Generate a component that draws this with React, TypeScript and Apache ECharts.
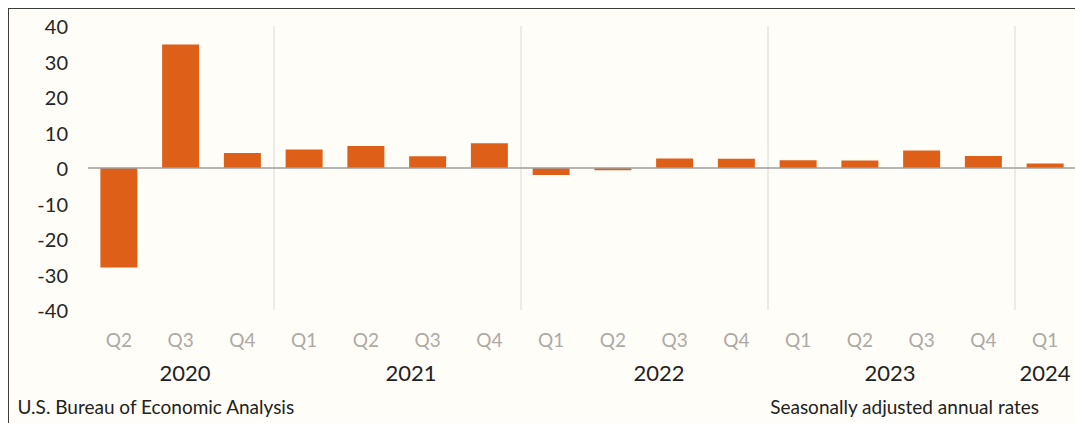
import React, { useEffect, useRef } from "react";
import * as echarts from "echarts";

const categories = [
  "2020 Q2", "2020 Q3", "2020 Q4",
  "2021 Q1", "2021 Q2", "2021 Q3", "2021 Q4",
  "2022 Q1", "2022 Q2", "2022 Q3", "2022 Q4",
  "2023 Q1", "2023 Q2", "2023 Q3", "2023 Q4",
  "2024 Q1",
];
const gdpGrowth = [-28.0, 34.8, 4.2, 5.2, 6.2, 3.3, 7.0, -2.0, -0.6, 2.7, 2.6, 2.2, 2.1, 4.9, 3.4, 1.3];
const yearLabels = ["2020", "2021", "2022", "2023", "2024"];
const yearLabelX = [176, 402, 650, 881, 1036];
const sourceText = "U.S. Bureau of Economic Analysis";
const noteText = "Seasonally adjusted annual rates";

const FONT = "Lato, 'Open Sans', sans-serif";

export default function App() {
  const ref = useRef<HTMLDivElement>(null);
  useEffect(() => {
    document.documentElement.style.overflow = "hidden";
    document.body.style.margin = "0";
    const chart = echarts.init(ref.current!, undefined, { renderer: "svg" });
    chart.setOption({
      animation: false,
      backgroundColor: "#FFFDF7",
      textStyle: { fontFamily: FONT },
      grid: { left: 79, right: -3, top: 17, height: 284, containLabel: false },
      xAxis: {
        type: "category",
        data: categories,
        axisLine: { show: false, onZero: false },
        axisTick: { show: false },
        axisLabel: {
          formatter: (v: string) => v.split(" ")[1],
          color: "#ADA9A5",
          fontSize: 19,
          fontFamily: FONT,
          margin: 20,
          interval: 0,
        },
        splitLine: {
          show: true,
          interval: (_i: number, v: string) => v.endsWith("Q1"),
          lineStyle: { color: "#E8E3DE", width: 1.5 },
        },
      },
      yAxis: {
        type: "value",
        min: -40,
        max: 40,
        interval: 10,
        axisLine: { show: false },
        axisTick: { show: false },
        splitLine: { show: false },
        axisLabel: { color: "#262626", fontSize: 20, fontFamily: FONT, margin: 20 },
      },
      series: [
        {
          type: "bar",
          data: gdpGrowth,
          barWidth: 37,
          itemStyle: { color: "#DE6018" },
          markLine: {
            silent: true,
            symbol: "none",
            label: { show: false },
            lineStyle: { color: "#9E9E9E", width: 1.5, type: "solid" },
            data: [{ yAxis: 0 }],
          },
        },
      ],
      graphic: [
        ...yearLabels.map((t, i) => ({
          type: "text",
          x: yearLabelX[i],
          y: 363,
          style: {
            text: t,
            fill: "#222222",
            font: `22px ${FONT}`,
            align: "center",
            verticalAlign: "middle",
          },
        })),
        {
          type: "text",
          x: 8.5,
          y: 397,
          style: { text: sourceText, fill: "#222222", font: `19px ${FONT}`, align: "left", verticalAlign: "middle" },
        },
        {
          type: "text",
          x: 1030,
          y: 397,
          style: { text: noteText, fill: "#222222", font: `19px ${FONT}`, align: "right", verticalAlign: "middle" },
        },
      ],
    });
    return () => chart.dispose();
  }, []);
  return (
    <div
      ref={ref}
      style={{
        position: "fixed",
        left: 7.5,
        top: 7.5,
        width: 1067,
        height: 414,
        borderTop: "1.5px solid #3c3c3c",
        borderLeft: "1.5px solid #3c3c3c",
        background: "#FFFDF7",
      }}
    />
  );
}
